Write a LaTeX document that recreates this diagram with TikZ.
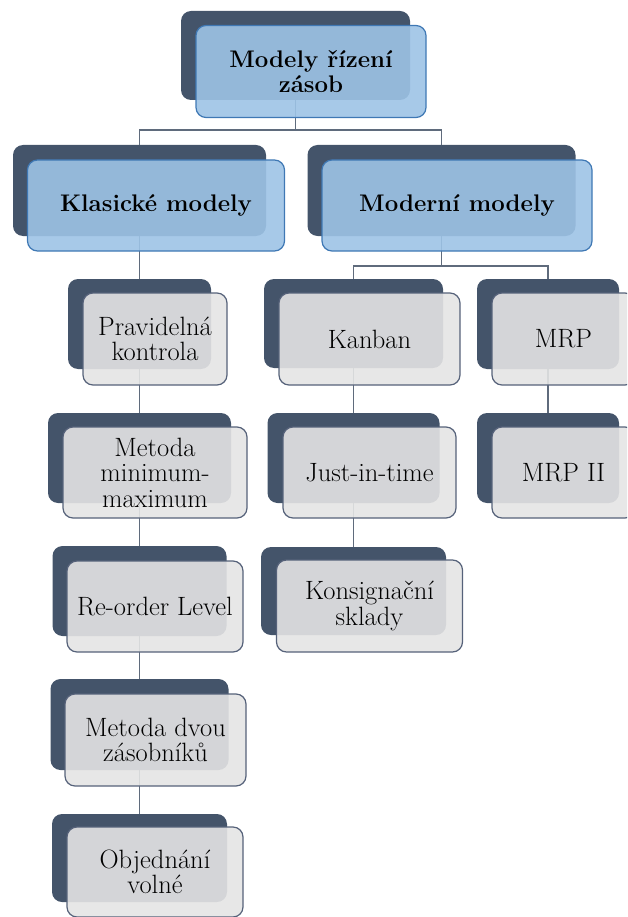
\documentclass[tikz,border=0pt]{standalone}
\usetikzlibrary{positioning}

\definecolor{backcol}{HTML}{44546A}
\definecolor{bluefill}{HTML}{9DC3E6}
\definecolor{blueline}{HTML}{3F78B4}
\definecolor{grayfill}{HTML}{E4E4E4}
\definecolor{grayline}{HTML}{56627A}
\definecolor{linecol}{HTML}{5F6B7C}

\begin{document}
\begin{tikzpicture}[x=1pt, y=-1pt]

\tikzset{backbox/.style={fill=backcol, rounded corners=10pt, inner sep=0pt}}
\tikzset{frontbox/.style={fill=grayfill, fill opacity=0.9, text opacity=1, draw=grayline, line width=1.2pt, rounded corners=10pt, align=center, inner sep=0pt, font=\fontsize{26.5}{25.5}\selectfont}}
\tikzset{topbox/.style={frontbox, fill=bluefill, draw=blueline, font=\fontsize{24}{24.5}\selectfont\bfseries}}
\tikzset{conn/.style={draw=linecol, line width=1.2pt}}

\useasboundingbox (0,0) rectangle (627,917);
\clip (0,0) rectangle (627,917);

% back boxes
\node[backbox, minimum width=229, minimum height=89] (modelyB) at (295.5,55.5) {};
\node[backbox, minimum width=253, minimum height=91] (klasickeB) at (139.5,190.5) {};
\node[backbox, minimum width=268, minimum height=91] (moderniB) at (441.5,190.5) {};
\node[backbox, minimum width=143, minimum height=90] (pravidelnaB) at (139.5,324) {};
\node[backbox, minimum width=183, minimum height=90] (minmaxB) at (139.5,458) {};
\node[backbox, minimum width=174, minimum height=90] (reorderB) at (139.5,591) {};
\node[backbox, minimum width=178, minimum height=91] (dvouB) at (139.5,724.5) {};
\node[backbox, minimum width=175, minimum height=88] (objednaniB) at (139.5,858) {};
\node[backbox, minimum width=179, minimum height=89] (kanbanB) at (353.5,323.5) {};
\node[backbox, minimum width=172, minimum height=90] (jitB) at (353.5,458) {};
\node[backbox, minimum width=185, minimum height=88] (konsigB) at (353.5,591) {};
\node[backbox, minimum width=142, minimum height=90] (mrpB) at (548,324) {};
\node[backbox, minimum width=142, minimum height=90] (mrpiiB) at (548,458) {};

% connectors
\coordinate (barA) at (295.5,130);
\coordinate (barB) at (441.5,266);
\draw[conn] (modelyB.south) -- (barA);
\draw[conn] (klasickeB.north) |- (barA) -| (moderniB.north);
\draw[conn] (moderniB.south) -- (barB);
\draw[conn] (kanbanB.north) |- (barB) -| (mrpB.north);
\draw[conn] (klasickeB.south) -- (pravidelnaB.north);
\draw[conn] (pravidelnaB.south) -- (minmaxB.north);
\draw[conn] (minmaxB.south) -- (reorderB.north);
\draw[conn] (reorderB.south) -- (dvouB.north);
\draw[conn] (dvouB.south) -- (objednaniB.north);
\draw[conn] (kanbanB.south) -- (jitB.north);
\draw[conn] (jitB.south) -- (konsigB.north);
\draw[conn] (mrpB.south) -- (mrpiiB.north);

% front boxes
\node[topbox, minimum width=230, minimum height=92] (modely) at ([shift={(15.5,16)}]modelyB.center) {Modely řízení\\zásob};
\node[topbox, minimum width=257, minimum height=91] (klasicke) at ([shift={(16.5,15)}]klasickeB.center) {Klasické modely};
\node[topbox, minimum width=270, minimum height=91] (moderni) at ([shift={(15.5,15)}]moderniB.center) {Moderní modely};
\node[frontbox, minimum width=144, minimum height=92] (pravidelna) at ([shift={(15.5,15)}]pravidelnaB.center) {Pravidelná\\kontrola};
\node[frontbox, minimum width=184, minimum height=91] (minmax) at ([shift={(15.5,14.5)}]minmaxB.center) {Metoda\\minimum-\\maximum};
\node[frontbox, minimum width=176, minimum height=91] (reorder) at ([shift={(15.5,15.5)}]reorderB.center) {Re-order Level};
\node[frontbox, minimum width=181, minimum height=92] (dvou) at ([shift={(16,15.5)}]dvouB.center) {Metoda dvou\\zásobníků};
\node[frontbox, minimum width=176, minimum height=90] (objednani) at ([shift={(15.5,14)}]objednaniB.center) {Objednání\\volné};
\node[frontbox, minimum width=181, minimum height=92] (kanban) at ([shift={(16,15.5)}]kanbanB.center) {Kanban};
\node[frontbox, minimum width=173, minimum height=91] (jit) at ([shift={(16,14.5)}]jitB.center) {Just-in-time};
\node[frontbox, minimum width=186, minimum height=92] (konsig) at ([shift={(16,15)}]konsigB.center) {Konsignační\\sklady};
\node[frontbox, minimum width=143, minimum height=92] (mrp) at ([shift={(15.5,15)}]mrpB.center) {MRP};
\node[frontbox, minimum width=143, minimum height=91] (mrpii) at ([shift={(15.5,14.5)}]mrpiiB.center) {MRP II};

\end{tikzpicture}
\end{document}
